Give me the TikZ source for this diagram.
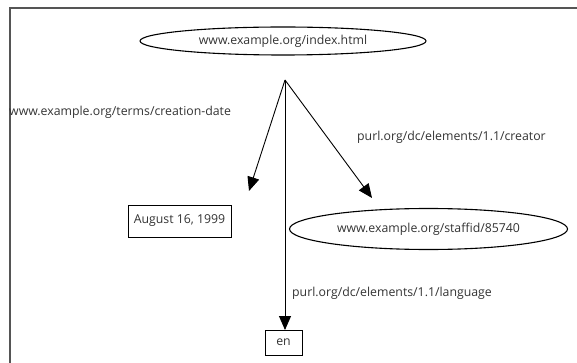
\documentclass[tikz,border=0pt]{standalone}
\usepackage{fontspec}
\setmainfont{Open Sans}
\usetikzlibrary{shapes.geometric,arrows.meta}
\definecolor{txt}{HTML}{333333}
\definecolor{frm}{HTML}{555555}
\begin{document}
\begin{tikzpicture}[x=1pt,y=-1pt,
  fnt/.style={font=\fontsize{12.3}{14}\selectfont,text=txt},
  lbl/.style={fnt,inner sep=0pt},
  res/.style={fnt,draw,ellipse,line width=1.1pt,inner sep=0pt},
  lit/.style={fnt,draw,rectangle,line width=0.9pt,inner sep=0pt},
  arr/.style={line width=0.9pt,-{Triangle[length=14pt,width=12pt]}}]
\clip (0,0) rectangle (577,363);
\draw[frm,line width=2pt] (10,8) rectangle (600,390);
\node[res,minimum width=286pt,minimum height=28pt] (idx) at (283,41) {www.example.org/index.html};
\node[lit,minimum width=103pt,minimum height=32pt] (date) at (179.5,221) {August 16, 1999};
\node[res,minimum width=278pt,minimum height=41pt] (staff) at (428.5,229) {www.example.org/staffid/85740};
\node[lit,minimum width=37pt,minimum height=25pt] (en) at (283.5,342.5) {en};
\coordinate (apex) at (285,80);
\coordinate (tipL) at (249,191);
\coordinate (tipR) at (372,198);
\coordinate (tipD) at (285,330);
\draw[arr] (apex) -- (tipL);
\draw[arr] (apex) -- (tipR);
\draw[arr] (apex) -- (tipD);
\node[lbl,anchor=west] (l1) at (9,112) {www.example.org/terms/creation-date};
\node[lbl,anchor=west] (l2) at (357,137) {purl.org/dc/elements/1.1/creator};
\node[lbl,anchor=west] (l3) at (292,293) {purl.org/dc/elements/1.1/language};
\end{tikzpicture}
\end{document}
